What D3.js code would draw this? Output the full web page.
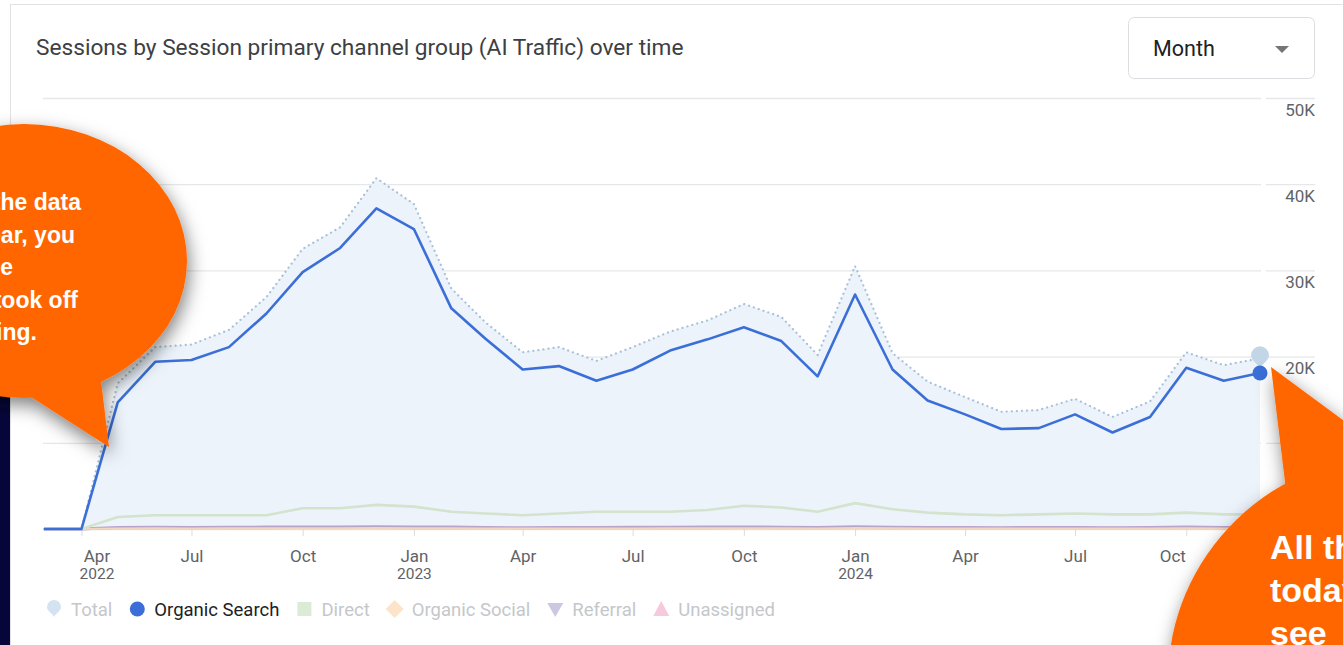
<!DOCTYPE html>
<html><head><meta charset="utf-8">
<script src="https://cdn.jsdelivr.net/npm/d3@7"></script>
<style>
html,body{margin:0;padding:0;background:#fff;overflow:hidden}
svg{display:block}
.co{font-family:"Liberation Sans",Arial,Helvetica,sans-serif;font-weight:700;fill:#fff}
</style></head><body>
<svg id="c" width="1343" height="645" font-family="Roboto, 'Noto Sans', sans-serif"></svg>
<script>
// ---------- DATA ----------
const categories = ["2022-03","2022-04","2022-05","2022-06","2022-07","2022-08","2022-09","2022-10","2022-11","2022-12",
  "2023-01","2023-02","2023-03","2023-04","2023-05","2023-06","2023-07","2023-08","2023-09","2023-10","2023-11","2023-12",
  "2024-01","2024-02","2024-03","2024-04","2024-05","2024-06","2024-07","2024-08","2024-09","2024-10","2024-11","2024-12"];
const totalValues = [0,0,16900,21100,21400,23100,26900,32500,35000,40700,
  37700,27900,24000,20500,21100,19500,21100,22900,24200,26100,24600,20200,
  30500,20400,17100,15300,13600,13800,15100,13000,14800,20500,19000,19800];
const organicSearch = [0,0,14700,19400,19600,21100,25000,29800,32600,37200,
  34800,25600,22100,18500,18900,17200,18500,20700,22000,23400,21800,17700,
  27200,18500,14900,13300,11600,11700,13300,11200,13000,18700,17200,18100];
const direct = [0,0,1400,1600,1600,1600,1600,2400,2400,2800,
  2600,2000,1800,1600,1800,2000,2000,2000,2200,2700,2500,2000,
  3000,2300,1900,1700,1600,1700,1800,1700,1700,1900,1700,1700];
const organicSocial = [0,0,60,80,70,90,80,100,90,110,100,80,70,60,70,60,70,80,90,100,80,70,110,80,60,60,50,60,70,60,60,80,70,70];
const referral = [0,0,180,220,200,210,230,250,240,260,250,230,200,150,180,200,210,220,230,240,220,200,260,210,200,180,170,180,190,170,190,230,200,210];
const unassigned = [0,0,80,90,100,90,100,110,120,110,100,90,80,70,80,90,100,90,100,110,100,90,120,100,90,80,80,90,90,80,90,100,90,100];
const legendNames = ["Total","Organic Search","Direct","Organic Social","Referral","Unassigned"];
const yTicks = [0,10000,20000,30000,40000,50000];
const yTickLabels = ["0","10K","20K","30K","40K","50K"];
const xTickDates = ["2022-04","2022-07","2022-10","2023-01","2023-04","2023-07","2023-10","2024-01","2024-04","2024-07","2024-10"];
const xTickMonth = ["Apr","Jul","Oct","Jan","Apr","Jul","Oct","Jan","Apr","Jul","Oct"];
const xTickYear = ["2022","","","2023","","","","2024","","",""];
const titleText = "Sessions by Session primary channel group (AI Traffic) over time";
const leftCallout = ["If you look at the data","from last year, you","can see the","traffic took off","from the beginning."];
const rightCallout = ["All the data","today, you can","see"];

// ---------- SETUP ----------
const parse = d3.timeParse("%Y-%m");
const dates = categories.map(parse);
const svg = d3.select("#c");
const x = d3.scaleTime().domain([dates[0], dates[dates.length-1]]).range([44, 1260]);
const y = d3.scaleLinear().domain([0, 50000]).range([529, 98]);

const defs = svg.append("defs");
const f = defs.append("filter").attr("id","sh").attr("x","-30%").attr("y","-30%").attr("width","160%").attr("height","160%");
f.append("feDropShadow").attr("dx",2).attr("dy",7).attr("stdDeviation",9).attr("flood-color","#000").attr("flood-opacity",0.5);

// left navy strip (slide background)
svg.append("rect").attr("x",0).attr("y",300).attr("width",10).attr("height",345).attr("fill","#06063a");
// card
svg.append("rect").attr("x",10.5).attr("y",4.5).attr("width",1400).attr("height",700)
  .attr("fill","#fff").attr("stroke","#e2e2e2");

// title
const title = svg.append("text").attr("x",36).attr("y",55).attr("fill","#3c4043").attr("font-size",20).text(titleText);
const tl = title.node().getComputedTextLength();
title.attr("font-size", 20*648/tl);

// month dropdown
svg.append("rect").attr("x",1128.5).attr("y",17.5).attr("width",186).attr("height",61).attr("rx",6)
  .attr("fill","#fff").attr("stroke","#dadce0");
svg.append("text").attr("x",1153).attr("y",56).attr("font-size",21.5).attr("fill","#202124").text("Month");
svg.append("path").attr("d","M1275,46L1289,46L1282,53Z").attr("fill","#757575");

// y axis + gridlines
const gy = svg.append("g").attr("transform","translate(1315,0)")
  .call(d3.axisRight(y).tickValues(yTicks).tickSize(-(1315-43)).tickFormat((d,i)=>yTickLabels[i]));
gy.attr("font-family",null);
gy.select(".domain").remove();
gy.selectAll(".tick line").attr("stroke","#e5e7ea").attr("stroke-width",1.3);
gy.selectAll(".tick text").attr("x",0).attr("dy",null).attr("y",17).attr("text-anchor","end")
  .attr("fill","#5f6368").attr("font-size",17);
// hover column gap
svg.append("rect").attr("x",1261).attr("y",90).attr("width",5).attr("height",440).attr("fill","#fff");

// x axis
const gx = svg.append("g").attr("transform",`translate(0,${y(0)})`)
  .call(d3.axisBottom(x).tickValues(xTickDates.map(parse)).tickSize(7).tickFormat((d,i)=>xTickMonth[i]));
gx.attr("font-family",null);
gx.select(".domain").remove();
gx.selectAll(".tick line").attr("stroke","#dadce0");
gx.selectAll(".tick text").each(function(d,i){
  const t = d3.select(this);
  t.text(null).attr("y",null).attr("dy",null).attr("fill","#5f6368");
  t.append("tspan").attr("x",0).attr("y",33).attr("font-size",17).text(xTickMonth[i]);
  if (xTickYear[i]) t.append("tspan").attr("x",0).attr("y",50).attr("font-size",15.5).text(xTickYear[i]);
  if (i===0) t.attr("transform","translate(15,0)");
  if (i===xTickMonth.length-1) t.attr("transform","translate(-14,0)");
});

// area under total
const area = d3.area().x((d,i)=>x(dates[i])).y0(y(0)).y1(d=>y(d));
svg.append("path").datum(totalValues).attr("d",area).attr("fill","#ecf3fb");
const line = d3.line().x((d,i)=>x(dates[i])).y(d=>y(d));
svg.append("path").datum(totalValues).attr("d",line).attr("fill","none").attr("stroke","#a9c0d8")
  .attr("stroke-width",2.2).attr("stroke-dasharray","0.1 5").attr("stroke-linecap","round");
svg.append("path").datum(unassigned).attr("d",line).attr("fill","none").attr("stroke","#e9b9cf").attr("stroke-width",2.5);
svg.append("path").datum(referral).attr("d",line).attr("fill","none").attr("stroke","#b9a3c9").attr("stroke-width",2.8);
svg.append("path").datum(organicSocial).attr("d",line).attr("fill","none").attr("stroke","#f3d6bd").attr("stroke-width",2);
svg.append("path").datum(direct).attr("d",line).attr("fill","none").attr("stroke","#d3e3cd").attr("stroke-width",2.6);
svg.append("path").datum(organicSearch).attr("d",line).attr("fill","none").attr("stroke","#3b6fd7")
  .attr("stroke-width",2.6).attr("stroke-linejoin","round");

// last-point markers
const li = dates.length-1;
const tx = x(dates[li]), ty = y(totalValues[li]);
svg.append("path").attr("transform",`translate(${tx},${ty})`)
  .attr("d","M0,10 C-3,5 -9,2 -9,-3 A9,9 0 1 1 9,-3 C9,2 3,5 0,10Z").attr("fill","#c3d6e8");
svg.append("circle").attr("cx",tx).attr("cy",y(organicSearch[li])).attr("r",7.5).attr("fill","#3b6fd7");

// legend
const legendStyle = [
  {c:"#d3e3f1", s:"drop", t:"#c4c7cb"},
  {c:"#3b6fd7", s:"circle", t:"#202124"},
  {c:"#dcebd6", s:"square", t:"#c4c7cb"},
  {c:"#fde3c9", s:"diamond", t:"#c4c7cb"},
  {c:"#cbc8e2", s:"tdown", t:"#c4c7cb"},
  {c:"#f7c9dc", s:"tup", t:"#c4c7cb"}
];
let lx = 54; const ly = 609;
legendNames.forEach((n,i)=>{
  const st = legendStyle[i];
  const g = svg.append("g").attr("transform",`translate(${lx},${ly})`);
  if (st.s==="drop") g.append("path").attr("d","M0,8 C-2,4 -7,2 -7,-2 A7,7 0 1 1 7,-2 C7,2 2,4 0,8Z").attr("fill",st.c);
  if (st.s==="circle") g.append("circle").attr("r",7.5).attr("fill",st.c);
  if (st.s==="square") g.append("rect").attr("x",-7).attr("y",-7).attr("width",14).attr("height",14).attr("fill",st.c);
  if (st.s==="diamond") g.append("path").attr("d","M0,-9L9,0L0,9L-9,0Z").attr("fill",st.c);
  if (st.s==="tdown") g.append("path").attr("d","M-8,-6L8,-6L0,8Z").attr("fill",st.c);
  if (st.s==="tup") g.append("path").attr("d","M-8,7L8,7L0,-8Z").attr("fill",st.c);
  const t = svg.append("text").attr("x",lx+17).attr("y",ly+6.5).attr("font-size",18.5).attr("fill",st.t).text(n);
  lx = lx + 17 + t.node().getComputedTextLength() + 25;
});

// left callout
const lc = svg.append("g").attr("filter","url(#sh)");
lc.append("ellipse").attr("cx",24).attr("cy",261).attr("rx",163).attr("ry",137).attr("fill","#ff6600");
lc.append("path").attr("d","M100,372L109,447L20,390Z").attr("fill","#ff6600");
const lEnds = [81,75,13,78,37];
leftCallout.forEach((s,i)=>{
  svg.append("text").attr("class","co").attr("x",lEnds[i]).attr("y",210+i*32.5).attr("text-anchor","end")
    .style("font-size","23px").text(s);
});

// right callout
const rc = svg.append("g").attr("filter","url(#sh)");
rc.append("ellipse").attr("cx",1400).attr("cy",680).attr("rx",232).attr("ry",226).attr("fill","#ff6600");
rc.append("path").attr("d","M1271,367L1420,477L1286,490Z").attr("fill","#ff6600");
rightCallout.forEach((s,i)=>{
  svg.append("text").attr("class","co").attr("x",1270).attr("y",559+i*43)
    .style("font-size","34px").text(s);
});
</script>
</body></html>
